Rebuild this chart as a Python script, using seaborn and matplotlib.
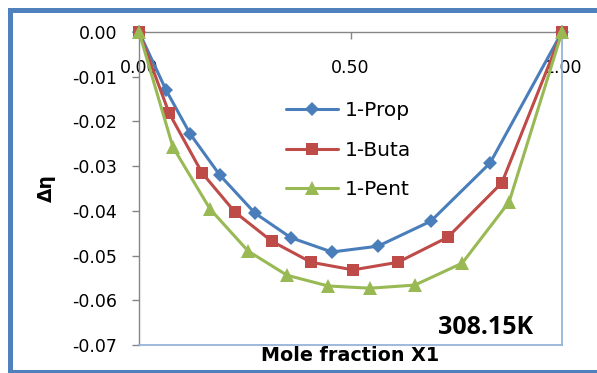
import matplotlib
matplotlib.use("Agg")
import matplotlib.pyplot as plt
import seaborn as sns
from matplotlib.lines import Line2D

# ---- data ----
x_prop = [0.0, 0.064, 0.121, 0.191, 0.274, 0.359, 0.456, 0.565, 0.690, 0.830, 1.0]
y_prop = [0.0, -0.0130, -0.0228, -0.0320, -0.0405, -0.0460, -0.0492, -0.0479, -0.0423, -0.0293, 0.0]
x_buta = [0.0, 0.071, 0.149, 0.227, 0.314, 0.407, 0.506, 0.612, 0.730, 0.858, 1.0]
y_buta = [0.0, -0.0181, -0.0315, -0.0403, -0.0468, -0.0515, -0.0532, -0.0515, -0.0459, -0.0337, 0.0]
x_pent = [0.0, 0.080, 0.168, 0.258, 0.350, 0.447, 0.546, 0.652, 0.764, 0.875, 1.0]
y_pent = [0.0, -0.0257, -0.0396, -0.0490, -0.0544, -0.0568, -0.0573, -0.0566, -0.0517, -0.0380, 0.0]
series_labels = ["1-Prop", "1-Buta", "1-Pent"]

x_ticks = [0.0, 0.5, 1.0]
x_tick_labels = ["0.00", "0.50", "1.00"]
y_ticks = [0.0, -0.01, -0.02, -0.03, -0.04, -0.05, -0.06, -0.07]
y_tick_labels = ["0.00", "-0.01", "-0.02", "-0.03", "-0.04", "-0.05", "-0.06", "-0.07"]

x_label = "Mole fraction X1"
y_label = "Δη"
annotation = "308.15K"

# ---- style ----
sns.set_theme(style="white")
plt.rcParams["font.family"] = ["DejaVu Sans"]
plt.rcParams["axes.unicode_minus"] = False

W, H = 597, 373
fig = plt.figure(figsize=(W / 100, H / 100), dpi=100)
fig.patch.set_facecolor("white")
fig.patch.set_edgecolor("white")
fig.patch.set_linewidth(0)
ax = fig.add_axes([139 / W, (H - 345) / H, 423 / W, 313 / H])
ax.set_facecolor("white")

colors = ["#4A7EBB", "#BE4B48", "#98B954"]
markers = ["D", "s", "^"]
msizes = [7, 9, 9.5]
datasets = [(x_prop, y_prop), (x_buta, y_buta), (x_pent, y_pent)]
for (xs, ys), lab, c, m, ms in zip(datasets, series_labels, colors, markers, msizes):
    sns.lineplot(x=xs, y=ys, ax=ax, color=c, marker=m, markersize=ms,
                 markeredgewidth=0, linewidth=2.2, label=lab, estimator=None,
                 sort=False, clip_on=False, zorder=3)

ax.set_xlim(0, 1.0)
ax.set_ylim(-0.07, 0.0)

# x axis at top (y = 0), labels drawn inside the plot below the line
ax.xaxis.tick_top()
ax.set_xticks(x_ticks)
ax.set_xticklabels(x_tick_labels)
ax.tick_params(axis="x", which="both", top=True, bottom=False, direction="in",
               length=5, width=1, color="#868686", pad=-32.5,
               labelsize=12.5, labelcolor="black", labeltop=True, labelbottom=False)

ax.set_yticks(y_ticks)
ax.set_yticklabels(y_tick_labels)
ax.tick_params(axis="y", which="both", left=True, direction="out", length=5,
               width=1, color="#868686", pad=10.8, labelsize=12.5, labelcolor="black")

for side in ["left", "top"]:
    ax.spines[side].set_color("#868686")
    ax.spines[side].set_linewidth(1.0)
for side in ["right", "bottom"]:
    ax.spines[side].set_color("#95B3D7")
    ax.spines[side].set_linewidth(1.3)
for s in ax.spines.values():
    s.set_visible(True)
    s.set_zorder(1)

ax.set_xlabel(x_label, fontsize=13.8, fontweight="bold", color="black")
ax.xaxis.set_label_position("bottom")
ax.xaxis.labelpad = 1
ax.set_ylabel(y_label, fontsize=13.5, fontweight="bold", color="black")
ax.yaxis.set_label_coords(-0.196, 0.5)

ax.text(0.931, 0.035, annotation, transform=ax.transAxes, ha="right",
        va="baseline", fontsize=18, fontweight="bold", family=["Open Sans", "DejaVu Sans"],
        color="black")

leg = ax.legend(loc="upper left", bbox_to_anchor=(0.3475, 0.78), frameon=False,
                fontsize=14.5, handlelength=2.6, handletextpad=0.3,
                labelspacing=1.03, borderpad=0, borderaxespad=0)
for t in leg.get_texts():
    t.set_color("black")

# outer chart border: three separate edges (the right side is cut off in the reference)
edge_kw = dict(transform=fig.transFigure, color="#4F81BD", linewidth=3.6,
               solid_capstyle="projecting", clip_on=False)
fig.lines.append(Line2D([10 / W, 1.0], [(H - 10) / H, (H - 10) / H], **edge_kw))
fig.lines.append(Line2D([10 / W, 1.0], [(H - 372) / H, (H - 372) / H], **edge_kw))
fig.lines.append(Line2D([10 / W, 10 / W], [(H - 10) / H, (H - 372) / H], **edge_kw))

fig.savefig("out.png", dpi=100, facecolor="white", edgecolor="white")
